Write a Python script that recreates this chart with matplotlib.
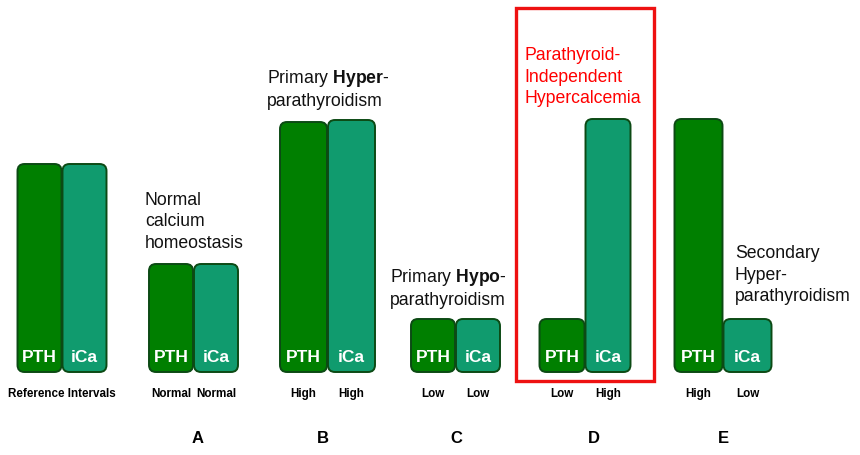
import matplotlib
matplotlib.use("Agg")
import matplotlib.pyplot as plt
from matplotlib.patches import FancyBboxPatch, Rectangle

plt.rcParams['font.family'] = ['Liberation Sans', 'DejaVu Sans']
plt.rcParams['mathtext.fontset'] = 'custom'
plt.rcParams['mathtext.rm'] = 'Liberation Sans'
plt.rcParams['mathtext.bf'] = 'Liberation Sans:bold'

# data: relative bar heights (pixel-like units)
groups = ["", "A", "B", "C", "D", "E"]
pth_vals = [208, 108, 250, 53, 53, 253]
ica_vals = [208, 108, 252, 53, 253, 53]
pth_labels = ["Reference", "Normal", "High", "Low", "Low", "High"]
ica_labels = ["Intervals", "Normal", "High", "Low", "High", "Low"]
titles = ["",
          "Normal\ncalcium\nhomeostasis",
          "Primary $\\mathbf{Hyper}$-\nparathyroidism",
          "Primary $\\mathbf{Hypo}$-\nparathyroidism",
          "Parathyroid-\nIndependent\nHypercalcemia",
          "Secondary\nHyper-\nparathyroidism"]

# layout
centers = [62, 193.5, 327.5, 455.5, 585, 723]
letter_x = [0, 198, 323, 456, 594, 723]
widths = [44, 44, 47, 44, 45, 48]
title_pos = [(0, 0), (145, 222), (267, 89), (390, 288), (524, 77), (735, 275)]
pth_col = "#007f00"
ica_col = "#109b6e"
edge_col = "#0c4a14"
base = 373  # pixel row of bar bottoms

fig = plt.figure(figsize=(8.6, 4.56), dpi=100)
ax = fig.add_axes([0, 0, 1, 1])
ax.set_xlim(0, 860)
ax.set_ylim(base - 456, base)
ax.axis("off")

def py(y):
    return base - y

for i in range(len(groups)):
    w = widths[i]
    xs = [centers[i] - w / 2 - 0.5, centers[i] + w / 2 + 0.5]
    bars = ax.bar(xs, [pth_vals[i], ica_vals[i]], width=w,
                  color=[pth_col, ica_col])
    for b in bars:
        x0, y0 = b.get_x(), b.get_y()
        bw, bh = b.get_width(), b.get_height()
        r = 7
        p = FancyBboxPatch((x0 + r, y0 + r), bw - 2 * r, bh - 2 * r,
                           boxstyle="round,pad=%d,rounding_size=%d" % (r, r),
                           facecolor=b.get_facecolor(), edgecolor=edge_col,
                           linewidth=1.4, zorder=2)
        ax.add_patch(p)
        b.remove()
    ax.text(xs[0], py(358), "PTH", color="white", fontsize=12.5,
            fontweight="bold", ha="center", va="center", zorder=3)
    ax.text(xs[1], py(358), "iCa", color="white", fontsize=12.5,
            fontweight="bold", ha="center", va="center", zorder=3)
    if i == 0:
        ax.text(centers[i], py(394), pth_labels[i] + " " + ica_labels[i],
                fontsize=8.4, fontweight="bold", ha="center", va="center")
    else:
        ax.text(xs[0], py(394), pth_labels[i], fontsize=8.4,
                fontweight="bold", ha="center", va="center")
        ax.text(xs[1], py(394), ica_labels[i], fontsize=8.4,
                fontweight="bold", ha="center", va="center")
        ax.text(letter_x[i], py(439), groups[i], fontsize=12,
                fontweight="bold", ha="center", va="center")
    if titles[i]:
        tx, ty = title_pos[i]
        ax.text(tx, py(ty), titles[i], fontsize=12.7, ha="left", va="center",
                linespacing=1.32, color="red" if i == 4 else "#111111")

ax.add_patch(Rectangle((516, py(382)), 138, 373, fill=False,
                       edgecolor="#ee1111", linewidth=2.4, zorder=4))

fig.savefig("out.png", dpi=100)
